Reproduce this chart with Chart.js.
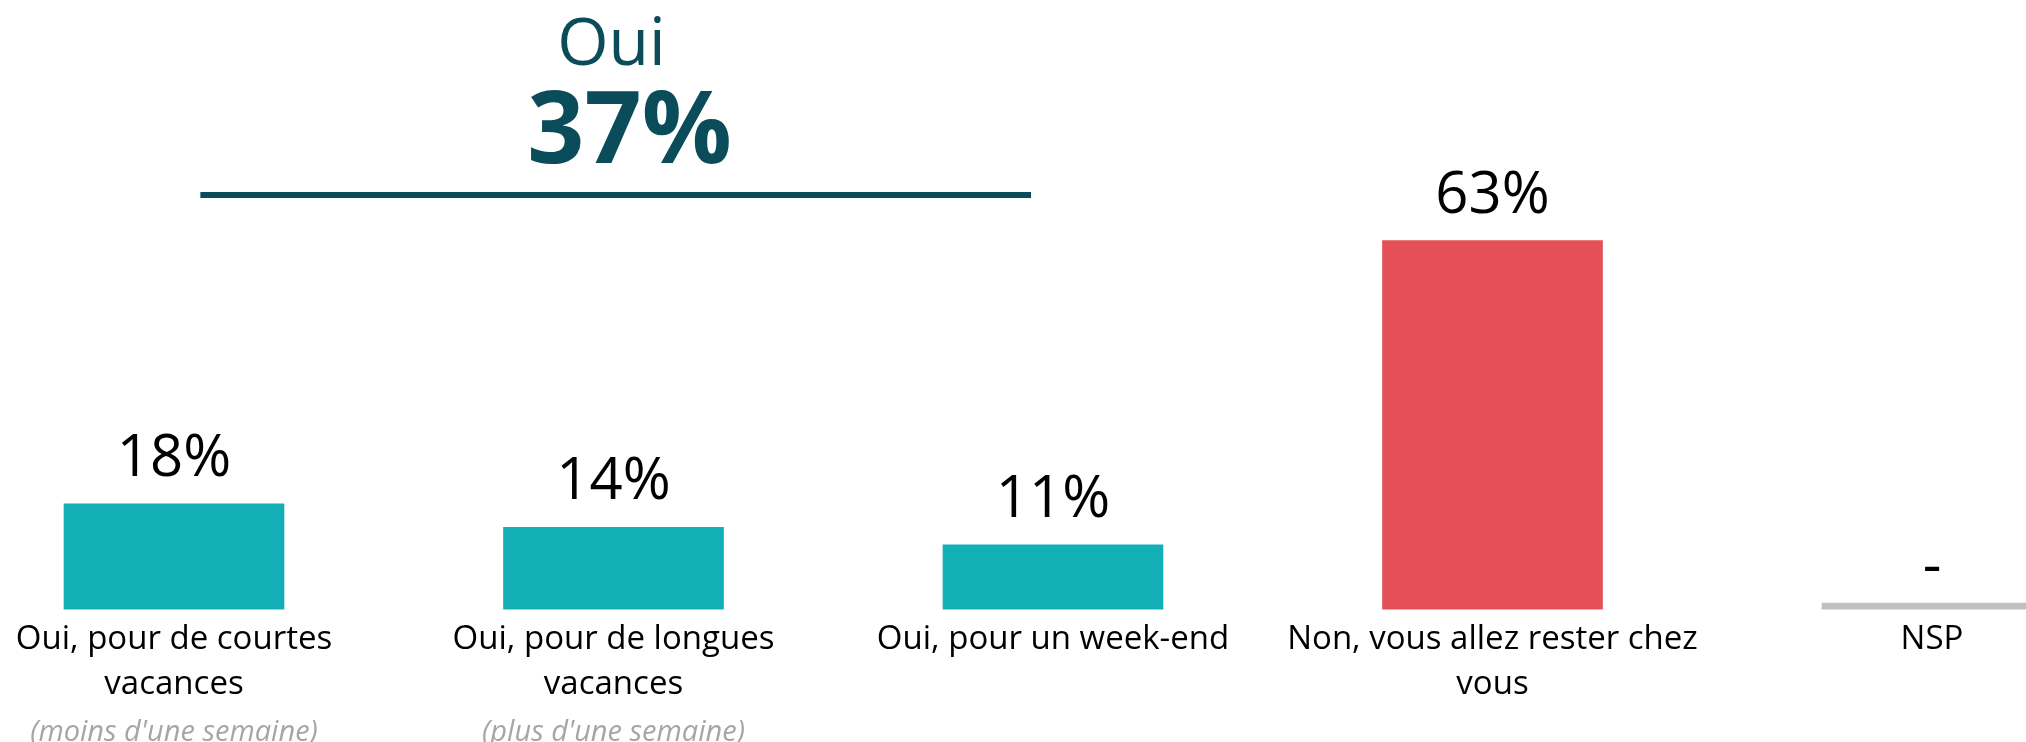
<!DOCTYPE html>
<html><head><meta charset="utf-8">
<script src="https://cdn.jsdelivr.net/npm/chart.js@4/dist/chart.umd.min.js"></script>
<style>html,body{margin:0;padding:0;background:#fff}#wrap{width:2026px;height:742px;position:relative}</style>
</head><body><div id="wrap"><canvas id="c"></canvas></div>
<script>
const categories = [['Oui, pour de courtes','vacances'],['Oui, pour de longues','vacances'],['Oui, pour un week-end'],['Non, vous allez rester chez','vous'],['NSP']];
const subtitles = ["(moins d'une semaine)","(plus d'une semaine)","","",""];
const values = [18,14,11,63,0];
const valueLabels = ['18%','14%','11%','63%','-'];
const barColors = ['#13AFB7','#13AFB7','#13AFB7','#E55058','#C0C0C0'];
const groupTitle = 'Oui';
const groupTotal = '37%';

const FONT = "'Open Sans', 'Noto Sans', sans-serif";
const DARK = '#0B4C5A';

const annotPlugin = {
  id: 'annot',
  afterDatasetsDraw(chart) {
    const ctx = chart.ctx;
    const meta = chart.getDatasetMeta(0);
    ctx.save();
    ctx.fillStyle = '#000';
    ctx.textAlign = 'center';
    ctx.textBaseline = 'alphabetic';
    ctx.font = '58px ' + FONT;
    meta.data.forEach((bar, i) => {
      const off = values[i] ? 28 : 18;
      ctx.fillText(valueLabels[i], bar.x, bar.y - off);
    });
    const xs = chart.scales.x;
    const cx = xs.getPixelForValue(1);
    ctx.fillStyle = DARK;
    ctx.font = '66px ' + FONT;
    ctx.fillText(groupTitle, cx - 2, 65);
    ctx.font = 'bold 100px ' + FONT;
    ctx.fillText(groupTotal, cx + 16, 163);
    ctx.strokeStyle = DARK;
    ctx.lineWidth = 6;
    ctx.beginPath();
    ctx.moveTo(xs.getPixelForValue(0.06), 195);
    ctx.lineTo(xs.getPixelForValue(1.95), 195);
    ctx.stroke();
    ctx.restore();
  }
};

new Chart(document.getElementById('c'), {
  type: 'bar',
  data: {
    labels: categories,
    datasets: [{
      data: values,
      backgroundColor: barColors,
      borderWidth: 0,
      barThickness: 220,
      minBarLength: 6,
      clip: false,
      xAxisID: 'x'
    }]
  },
  options: {
    responsive: true,
    maintainAspectRatio: false,
    animation: false,
    layout: { padding: { left: 174, right: 94, top: 24, bottom: -8 } },
    plugins: { legend: { display: false }, tooltip: { enabled: false } },
    scales: {
      x: {
        type: 'category',
        offset: false,
        grid: { display: false, drawTicks: false },
        border: { display: false },
        ticks: {
          color: '#000',
          padding: 8,
          autoSkip: false,
          maxRotation: 0,
          font: { family: FONT, size: 33, lineHeight: 45 / 33 }
        }
      },
      x2: {
        type: 'category',
        labels: subtitles,
        position: 'bottom',
        offset: false,
        grid: { display: false, drawTicks: false },
        border: { display: false },
        ticks: {
          color: '#A6A6A6',
          padding: 0,
          autoSkip: false,
          maxRotation: 0,
          font: { family: FONT, size: 29, style: 'italic', lineHeight: 1.2 }
        }
      },
      y: {
        display: false,
        min: 0,
        max: 100
      }
    }
  },
  plugins: [annotPlugin]
});
</script>
</body></html>
